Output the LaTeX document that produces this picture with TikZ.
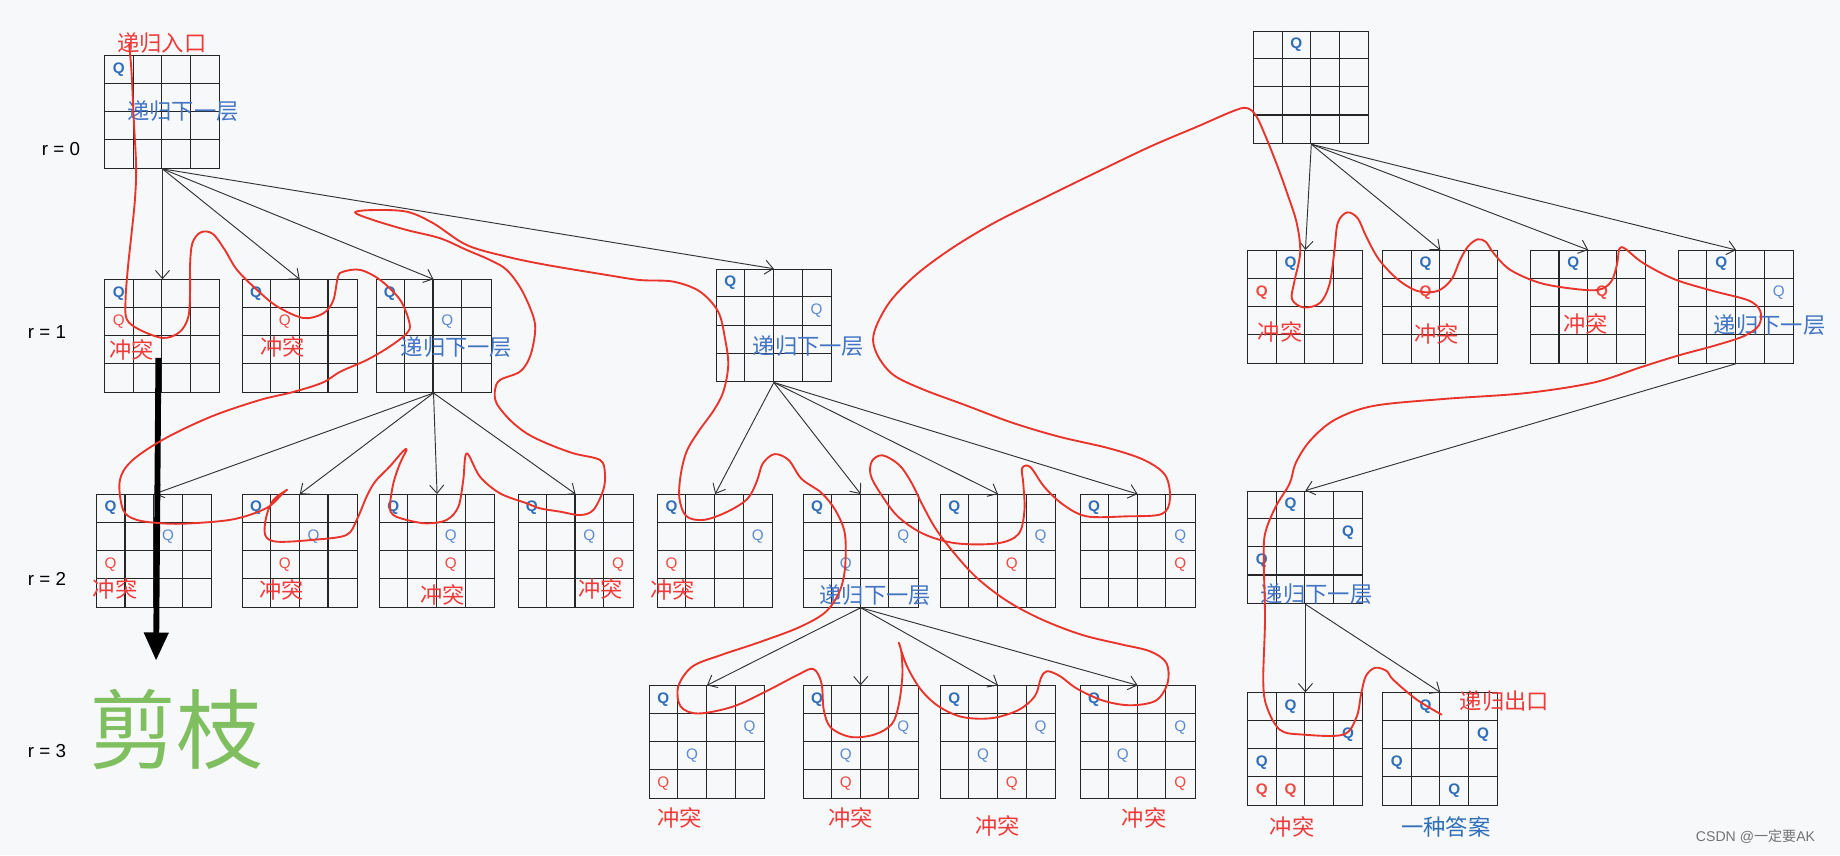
\documentclass[tikz,border=0pt]{standalone}
\usepackage{fontspec}
\setmainfont{Liberation Sans}
\newfontfamily\cjk{Noto Sans CJK SC}
\usetikzlibrary{arrows.meta,calc}
\definecolor{bgc}{HTML}{F7F8FA}
\definecolor{qblue}{HTML}{2F6EB8}
\definecolor{qlight}{HTML}{5C8BD0}
\definecolor{qred}{HTML}{EE4B43}
\definecolor{txtred}{HTML}{F03A3A}
\definecolor{txtblue}{HTML}{4274C4}
\definecolor{curvered}{HTML}{E8342B}
\definecolor{cutgreen}{HTML}{7FBF60}
\tikzset{
 board/.style={draw=black!85, line width=0.9pt, minimum width=98pt, minimum height=96pt, inner sep=0pt, anchor=north west},
 gridln/.style={draw=black!85, line width=0.9pt},
 qb/.style={font=\fontsize{13}{13}\selectfont\bfseries, text=qblue, inner sep=0pt},
 ql/.style={font=\fontsize{13}{13}\selectfont, text=qlight, inner sep=0pt},
 qr/.style={font=\fontsize{13}{13}\selectfont, text=qred, inner sep=0pt},
 qrb/.style={font=\fontsize{13}{13}\selectfont\bfseries, text=qred, inner sep=0pt},
 conflict/.style={font=\cjk\fontsize{19}{19}\selectfont, text=txtred, inner sep=0pt},
 recur/.style={font=\cjk\fontsize{19}{19}\selectfont, text=txtblue, inner sep=0pt},
 rlabel/.style={font=\fontsize{16}{16}\selectfont, text=black, inner sep=0pt},
 arr/.style={draw=black!80, line width=0.8pt, -{Straight Barb[length=7pt,width=12pt]}},
 dfs/.style={draw=curvered, line width=1.6pt, line cap=round, line join=round},
}
\newcommand{\board}[3]{%
  \node[board] (#1) at (#2,#3) {};
  \foreach \k in {1,2,3} {
    \draw[gridln] ($(#1.north west)+({\k*24.5},0)$) -- ($(#1.south west)+({\k*24.5},0)$);
    \draw[gridln] ($(#1.north west)+(0,{\k*24})$) -- ($(#1.north east)+(0,{\k*24})$);
  }}
\newcommand{\qq}[4]{\node[#4] (#1q#2#3) at ($(#1.north west)+({(#2+0.5)*24.5},{(#3+0.5)*24})$) {Q};}
\begin{document}
\begin{tikzpicture}[x=1pt,y=-1pt]
\fill[bgc] (0,0) rectangle (1568,729);
\useasboundingbox (0,0) rectangle (1568,729);
% boards
\board{g0}{89}{47}
\board{g1a}{89}{238}
\board{g1b}{206}{238}
\board{g1c}{320}{238}
\board{g1d}{610}{229}
\board{g2a}{82}{421}
\board{g2b}{206}{421}
\board{g2c}{323}{421}
\board{g2d}{441}{421}
\board{g2e}{560}{421}
\board{g2f}{684}{421}
\board{g2g}{801}{421}
\board{g2h}{920}{421}
\board{g3a}{553}{584}
\board{g3b}{684}{584}
\board{g3c}{801}{584}
\board{g3d}{920}{584}
\board{g0r}{1068}{26}
\board{g1e}{1063}{213}
\board{g1f}{1178}{213}
\board{g1g}{1304}{213}
\board{g1h}{1430}{213}
\board{g2i}{1063}{418}
\board{g3e}{1063}{590}
\board{g3f}{1178}{590}
% connectors
\foreach \c in {g1a,g1b,g1c,g1d} \draw[arr] (g0.south) -- (\c.north);
\foreach \c in {g2a,g2b,g2c,g2d} \draw[arr] (g1c.south) -- (\c.north);
\foreach \c in {g2e,g2f,g2g,g2h} \draw[arr] (g1d.south) -- (\c.north);
\foreach \c in {g3a,g3b,g3c,g3d} \draw[arr] (g2f.south) -- (\c.north);
\foreach \c in {g1e,g1f,g1g,g1h} \draw[arr] (g0r.south) -- (\c.north);
\draw[arr] (g1h.south) -- (g2i.north);
\foreach \c in {g3e,g3f} \draw[arr] (g2i.south) -- (\c.north);
% queens
\qq{g0}{0}{0}{qb}
\qq{g1a}{0}{0}{qb}\qq{g1a}{0}{1}{qr}
\qq{g1b}{0}{0}{qb}\qq{g1b}{1}{1}{qr}
\qq{g1c}{0}{0}{qb}\qq{g1c}{2}{1}{ql}
\qq{g1d}{0}{0}{qb}\qq{g1d}{3}{1}{ql}
\qq{g2a}{0}{0}{qb}\qq{g2a}{2}{1}{ql}\qq{g2a}{0}{2}{qr}
\qq{g2b}{0}{0}{qb}\qq{g2b}{2}{1}{ql}\qq{g2b}{1}{2}{qr}
\qq{g2c}{0}{0}{qb}\qq{g2c}{2}{1}{ql}\qq{g2c}{2}{2}{qr}
\qq{g2d}{0}{0}{qb}\qq{g2d}{2}{1}{ql}\qq{g2d}{3}{2}{qr}
\qq{g2e}{0}{0}{qb}\qq{g2e}{3}{1}{ql}\qq{g2e}{0}{2}{qr}
\qq{g2f}{0}{0}{qb}\qq{g2f}{3}{1}{ql}\qq{g2f}{1}{2}{ql}
\qq{g2g}{0}{0}{qb}\qq{g2g}{3}{1}{ql}\qq{g2g}{2}{2}{qr}
\qq{g2h}{0}{0}{qb}\qq{g2h}{3}{1}{ql}\qq{g2h}{3}{2}{qr}
\qq{g3a}{0}{0}{qb}\qq{g3a}{3}{1}{ql}\qq{g3a}{1}{2}{ql}\qq{g3a}{0}{3}{qr}
\qq{g3b}{0}{0}{qb}\qq{g3b}{3}{1}{ql}\qq{g3b}{1}{2}{ql}\qq{g3b}{1}{3}{qr}
\qq{g3c}{0}{0}{qb}\qq{g3c}{3}{1}{ql}\qq{g3c}{1}{2}{ql}\qq{g3c}{2}{3}{qr}
\qq{g3d}{0}{0}{qb}\qq{g3d}{3}{1}{ql}\qq{g3d}{1}{2}{ql}\qq{g3d}{3}{3}{qr}
\qq{g0r}{1}{0}{qb}
\qq{g1e}{1}{0}{qb}\qq{g1e}{0}{1}{qrb}
\qq{g1f}{1}{0}{qb}\qq{g1f}{1}{1}{qrb}
\qq{g1g}{1}{0}{qb}\qq{g1g}{2}{1}{qrb}
\qq{g1h}{1}{0}{qb}\qq{g1h}{3}{1}{ql}
\qq{g2i}{1}{0}{qb}\qq{g2i}{3}{1}{qb}\qq{g2i}{0}{2}{qb}
\qq{g3e}{1}{0}{qb}\qq{g3e}{3}{1}{qb}\qq{g3e}{0}{2}{qb}\qq{g3e}{0}{3}{qrb}\qq{g3e}{1}{3}{qrb}
\qq{g3f}{1}{0}{qb}\qq{g3f}{3}{1}{qb}\qq{g3f}{0}{2}{qb}\qq{g3f}{2}{3}{qb}
% level labels
\node[rlabel] (r0) at (52,127) {r = 0};
\node[rlabel] (r1) at (40,283) {r = 1};
\node[rlabel] (r2) at (40,493) {r = 2};
\node[rlabel] (r3) at (40,640) {r = 3};
% texts
\node[conflict] (entry) at (138,37) {递归入口};
\node[recur] (t0) at (156,95) {递归下一层};
\node[conflict] (c1a) at (112,298) {冲突};
\node[conflict] (c1b) at (241,296) {冲突};
\node[recur] (t1c) at (389,296) {递归下一层};
\node[recur] (t1d) at (689,295) {递归下一层};
\node[conflict] (c2a) at (98,502) {冲突};
\node[conflict] (c2b) at (240,503) {冲突};
\node[conflict] (c2c) at (377,507) {冲突};
\node[conflict] (c2d) at (512,502) {冲突};
\node[conflict] (c2e) at (573,503) {冲突};
\node[recur] (t2f) at (746,507) {递归下一层};
\node[conflict] (c3a) at (579,697) {冲突};
\node[conflict] (c3b) at (725,697) {冲突};
\node[conflict] (c3c) at (850,704) {冲突};
\node[conflict] (c3d) at (975,697) {冲突};
\node[conflict] (c1e) at (1091,283) {冲突};
\node[conflict] (c1f) at (1224,285) {冲突};
\node[conflict] (c1g) at (1351,276) {冲突};
\node[recur] (t1h) at (1508,277) {递归下一层};
\node[recur] (t2i) at (1122,506) {递归下一层};
\node[conflict] (c3e) at (1101,705) {冲突};
\node[recur, text=qblue] (ans) at (1232,705) {一种答案};
\node[conflict] (exit) at (1282,597) {递归出口};
\node[font=\cjk\fontsize{74}{74}\selectfont, text=cutgreen, inner sep=0pt] (cut) at (150,622) {剪枝};
\node[font=\fontsize{12}{12}\selectfont, text=black!55, inner sep=0pt] (wm) at (1496,713) {CSDN @\cjk 一定要\rmfamily AK};
% pruning arrow
\coordinate (cutS) at (135,305);
\coordinate (cutE) at (133,563);
\draw[line width=5pt, -{Triangle[length=24pt,width=20pt]}] (cutS) -- (cutE);
% DFS trace
\draw[dfs] plot[smooth, tension=0.55] coordinates {
(110,38) (112,60) (114,102) (116,142) (115,170) (112,200) (109,228) (107,255) (108,272) (119,281) (139,288) (153,283) (160.5,270) (162,247) (162,225) (164,207) (171,198) (181,199) (191,212) (202,230) (219,247) (236,261) (258.5,271) (275.5,267) (284,256) (288,236) (292.5,231.5) (307,230) (324,238.6) (341,255.6) (349,275.5) (346.6,284) (332,295.4) (312.5,306.8) (290,316.7) (275,326) (250,334) (221,341) (180,355) (140,374) (112,393) (102,410) (105,434.6) (116.5,443) (139,446) (162,446) (199,442.5) (227,433) (241,420.4) (244.3,417.6) (233,426) (227,440) (226,456) (236,461.6) (267,460) (295,456) (304,443) (312.5,423) (320,410) (332,397.7) (343,385) (346.6,383) (340.9,394.8) (335.2,411.9) (332.3,431.8) (335.2,438.9) (346.6,443.1) (363.6,446) (380.6,443.1) (390.6,431.8) (394.8,409) (397.7,386.3) (409,406.2) (426.1,420.4) (448.8,428.9) (460.2,433.2) (477.2,436) (494.2,438.9) (505.6,434.6) (514.1,417.6) (515.5,403.3) (511.3,392) (488.6,386.3) (465.9,377.8) (448.8,369.3) (434.6,357.9) (423.2,343.7) (421.8,332.3) (426.1,323.8) (443.1,316.7) (451.6,304) (455.9,284) (454.5,269.9) (444.5,247) (431.8,230) (417.6,221.6) (397.7,213) (375,203) (346.6,196) (318.1,187.5) (302.5,181) (318.1,179) (346.6,180.4) (369.3,190.3) (397.7,208.8) (431.8,218.7) (465.9,225.8) (517,234.3) (545,238.6) (573.8,240) (596.5,248.5) (612,265.6) (617.8,288.3) (620.6,311) (616.4,333.8) (608,350) (595,368) (585,385) (580,405) (579,425) (585,440) (600,443) (620,436) (637,425) (645,410) (650,395) (660,387) (672,392) (683,408) (700,420) (712,435) (720,455) (720,485) (715,505) (703,522) (680,535) (645,548) (615,558) (590,568) (578,585) (580,602) (595,608) (625,602) (655,588) (680,575) (693,570) (700,582) (702,605) (708,620) (725,628) (745,626) (760,617) (766,600) (769,575) (768,555) (766,548) (773,568) (785,588) (800,602) (820,611) (845,612) (868,605) (882,593) (887,578) (892,572) (903,576) (918,587) (940,597) (963,601) (985,597) (995,582) (994,565) (980,555) (955,549) (922,541) (888,528) (858,512) (832,492) (812,470) (797,450) (786,430) (776,410) (766,396) (752,388) (743,393) (742,405) (750,420) (765,440) (787,455) (815,463) (850,463) (868,455) (873,435) (872,412) (871,399) (878,398) (890,415) (906,430) (926,440) (960,440) (990,438) (997,425) (993,405) (975,392) (945,382) (902,372) (862,360) (822,345) (787,332) (762,320) (749,305) (744,290) (748,275) (760,255) (782,233) (812,211) (847,190) (887,170) (932,148) (980,125) (1020,108) (1050,95) (1062,92) (1070,98) (1078,115) (1088,140) (1097,165) (1105,190) (1108,215) (1103,240) (1101,255) (1111,262) (1125,258) (1133,242) (1137,215) (1140,190) (1148,181) (1157,186) (1164,201) (1175,221) (1191,238) (1208,248) (1225,248) (1237,238) (1244,222) (1251,210) (1259,204) (1266,206) (1273,216) (1287,230) (1312,241) (1340,246) (1362,247) (1373,240) (1378,225) (1380,212) (1385,212) (1400,224) (1427,238) (1460,248) (1490,256) (1500,265) (1499,277) (1487,286) (1463,294) (1430,303) (1398,313) (1358,326) (1300,335) (1230,340) (1170,346) (1137,358) (1116,376) (1104,395) (1099,412) (1087,432) (1078,455) (1077,480) (1078,528) (1076.5,580) (1079.4,602) (1090.8,622) (1110.6,626) (1144.7,626) (1156,611) (1160,591) (1164,576) (1172,569) (1182,572) (1187,579) (1207,596) (1228.5,609)
};
\end{tikzpicture}
\end{document}
